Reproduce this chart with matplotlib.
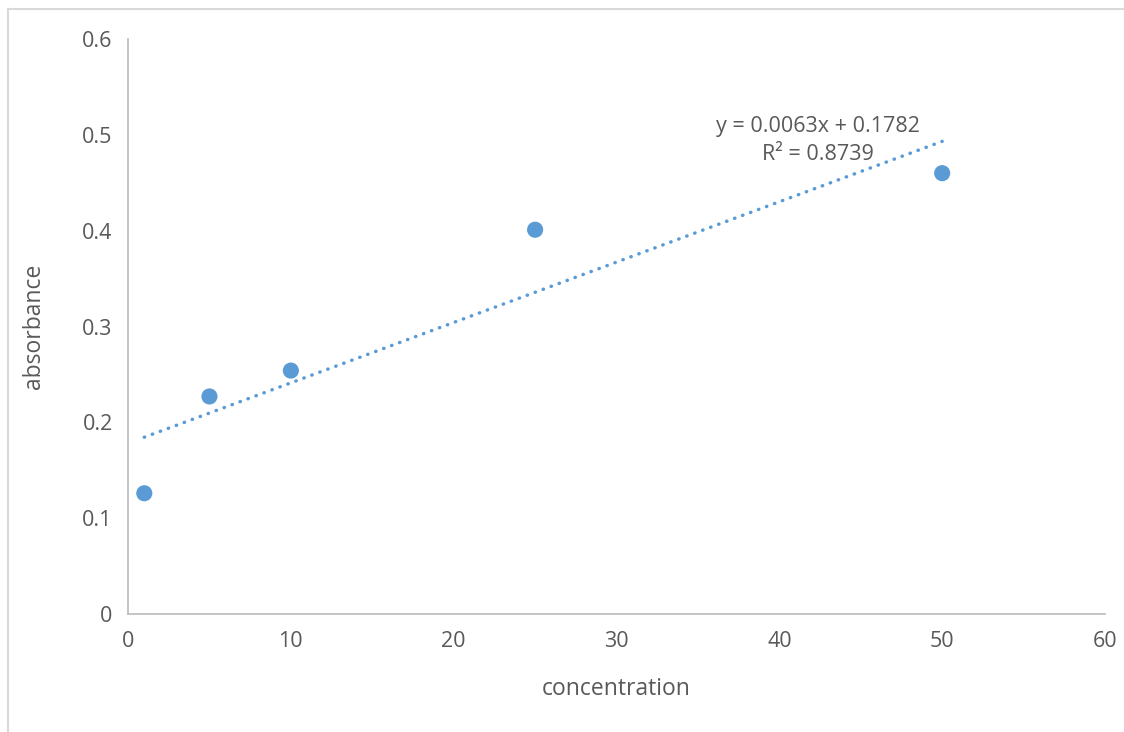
import matplotlib.pyplot as plt
from matplotlib.lines import Line2D

plt.rcParams['font.family'] = ['Open Sans', 'DejaVu Sans']

concentration = [1, 5, 10, 25, 50]
absorbance = [0.126, 0.227, 0.254, 0.401, 0.460]
slope = 0.0063
intercept = 0.1782
r_squared = 0.8739
x_ticks = [0, 10, 20, 30, 40, 50, 60]
y_ticks = [0, 0.1, 0.2, 0.3, 0.4, 0.5, 0.6]

grey_text = '#595959'
blue = '#5B9BD5'

fig = plt.figure(figsize=(11.24, 7.32), dpi=100)
ax = fig.add_axes([0.1139, 0.1612, 0.8692, 0.7855])

# chart frame (only top and left edges visible in the original)
fig.add_artist(Line2D([0.0071, 0.0071], [0, 0.988], color='#d9d9d9', lw=1.5))
fig.add_artist(Line2D([0.0071, 1.0], [0.988, 0.988], color='#d9d9d9', lw=1.5))

ax.scatter(concentration, absorbance, s=135, color=blue, zorder=3, edgecolors='none')

x0, x1 = min(concentration), max(concentration)
ax.plot([x0, x1], [slope * x0 + intercept, slope * x1 + intercept],
        color=blue, lw=2.5, linestyle=(0, (0.1, 2.35)), dash_capstyle='round', zorder=2)

ax.text(42.4, 0.509, f"y = {slope}x + {intercept}",
        ha='center', va='center', fontsize=15.5, color=grey_text)
ax.text(42.4, 0.480, f"R\u00b2 = {r_squared}",
        ha='center', va='center', fontsize=15.5, color=grey_text)

ax.set_xlim(0, 60)
ax.set_ylim(0, 0.6)
ax.set_xticks(x_ticks)
ax.set_yticks(y_ticks)
ax.set_xticklabels([str(t) for t in x_ticks])
ax.set_yticklabels([f"{t:g}" for t in y_ticks])
ax.tick_params(length=0, labelsize=15.5, colors=grey_text)
ax.tick_params(axis='x', pad=12)
ax.tick_params(axis='y', pad=11)

for side in ['top', 'right']:
    ax.spines[side].set_visible(False)
for side in ['left', 'bottom']:
    ax.spines[side].set_color('#bfbfbf')
    ax.spines[side].set_linewidth(1.3)

ax.set_xlabel('concentration', fontsize=16.5, color=grey_text, labelpad=18)
ax.set_ylabel('absorbance', fontsize=16.5, color=grey_text, labelpad=26)

fig.savefig('out.png', dpi=100)
